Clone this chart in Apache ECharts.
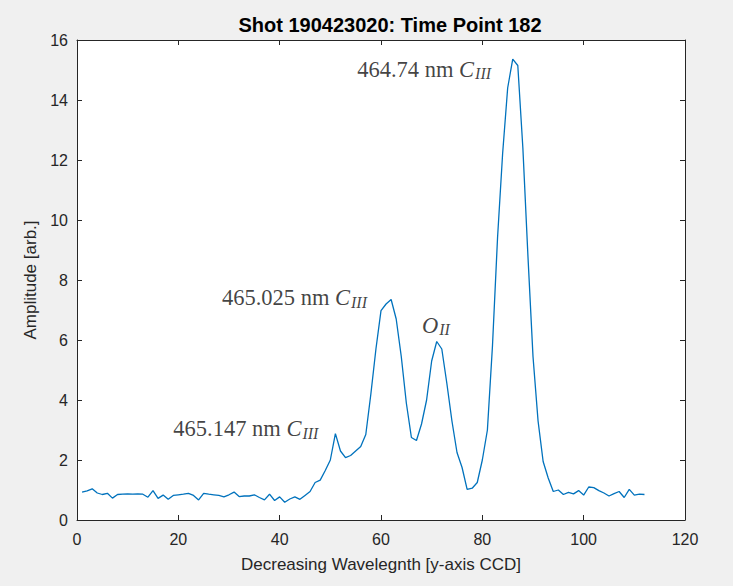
<!DOCTYPE html>
<html>
<head>
<meta charset="utf-8">
<script src="https://cdn.jsdelivr.net/npm/echarts@6/dist/echarts.min.js"></script>
<style>
html,body{margin:0;padding:0;background:#f0f0f0;}
#chart{width:733px;height:586px;}
</style>
</head>
<body>
<div id="chart"></div>
<script>
// Pixel index (x) and amplitude (y)
const pixelIndex = [];
for (let i = 1; i <= 112; i++) pixelIndex.push(i);
const amplitude = [
  0.93, 0.97, 1.04, 0.90, 0.85, 0.89, 0.73, 0.85, 0.86, 0.87,
  0.86, 0.87, 0.86, 0.76, 0.98, 0.72, 0.83, 0.69, 0.82, 0.84,
  0.86, 0.89, 0.82, 0.67, 0.89, 0.86, 0.84, 0.82, 0.77, 0.84,
  0.93, 0.78, 0.80, 0.80, 0.84, 0.75, 0.67, 0.86, 0.65, 0.77,
  0.59, 0.70, 0.77, 0.69, 0.82, 0.95, 1.25, 1.33, 1.65, 2.00,
  2.88, 2.30, 2.08, 2.15, 2.30, 2.45, 2.85, 4.20, 5.70, 6.98,
  7.20, 7.35, 6.70, 5.45, 3.90, 2.75, 2.65, 3.20, 4.00, 5.30,
  5.95, 5.70, 4.55, 3.30, 2.25, 1.75, 1.02, 1.06, 1.25, 2.00,
  3.00, 5.80, 9.40, 12.20, 14.40, 15.36, 15.15, 12.40, 8.80, 5.45,
  3.30, 1.95, 1.40, 0.95, 1.00, 0.85, 0.92, 0.87, 0.98, 0.83,
  1.10, 1.08, 0.98, 0.90, 0.80, 0.88, 0.95, 0.75, 1.02, 0.83,
  0.86, 0.85
];
// Annotations: anchor x, anchor y, plain text, species symbol, ionisation subscript
const annoX = [19, 28.6, 68.1, 55.3];
const annoY = [3.04, 7.41, 6.5, 15.03];
const annoText = ['465.147 nm ', '465.025 nm ', '', '464.74 nm '];
const annoSym = ['C', 'C', 'O', 'C'];
const annoSub = ['III', 'III', 'II', 'III'];
const xTicks = [0, 20, 40, 60, 80, 100, 120];
const yTicks = [0, 2, 4, 6, 8, 10, 12, 14, 16];

const lineData = pixelIndex.map((x, i) => [x, amplitude[i]]);
const annoData = annoX.map((x, i) => ({
  value: [x, annoY[i]],
  label: { formatter: (annoText[i] ? '{m|' + annoText[i] + '}' : '') + '{c|' + annoSym[i] + '}{s|' + annoSub[i] + '}' }
}));

const axisColor = '#262626';
const serif = 'Liberation Serif, Times New Roman, serif';
const sans = 'Liberation Sans, Arial, sans-serif';
const chart = echarts.init(document.getElementById('chart'), null, { renderer: 'svg' });
const commonX = {
  type: 'value', min: xTicks[0], max: xTicks[xTicks.length - 1], interval: 20,
  axisLine: { show: true, onZero: false, lineStyle: { color: axisColor, width: 1 } },
  axisTick: { show: true, inside: true, length: 5, lineStyle: { color: axisColor } },
  splitLine: { show: false }
};
const commonY = {
  type: 'value', min: yTicks[0], max: yTicks[yTicks.length - 1], interval: 2,
  axisLine: { show: true, onZero: false, lineStyle: { color: axisColor, width: 1 } },
  axisTick: { show: true, inside: true, length: 5, lineStyle: { color: axisColor } },
  splitLine: { show: false }
};
chart.setOption({
  backgroundColor: '#f0f0f0',
  animation: false,
  title: {
    text: 'Shot 190423020: Time Point 182',
    left: 385, top: 10, textAlign: 'center',
    textStyle: { fontFamily: sans, fontWeight: 'bold', fontSize: 20, color: '#000' }
  },
  grid: { left: 77, right: 48, top: 40, bottom: 66, show: true, backgroundColor: '#ffffff', borderWidth: 0 },
  xAxis: [
    Object.assign({}, commonX, {
      position: 'bottom',
      name: 'Decreasing Wavelegnth [y-axis CCD]', nameLocation: 'middle', nameGap: 36,
      nameTextStyle: { fontFamily: sans, fontSize: 17, color: '#262626' },
      axisLabel: { show: true, margin: 11, fontFamily: sans, fontSize: 16, color: '#262626' }
    }),
    Object.assign({}, commonX, { position: 'top', axisLabel: { show: false } })
  ],
  yAxis: [
    Object.assign({}, commonY, {
      position: 'left',
      name: 'Amplitude [arb.]', nameLocation: 'middle', nameGap: 36,
      nameTextStyle: { fontFamily: sans, fontSize: 17, color: '#262626' },
      axisLabel: { show: true, margin: 9, fontFamily: sans, fontSize: 16, color: '#262626' }
    }),
    Object.assign({}, commonY, { position: 'right', axisLabel: { show: false } })
  ],
  series: [
    {
      type: 'line', data: lineData, showSymbol: false, symbol: 'none',
      lineStyle: { color: '#0072BD', width: 1.3 }, xAxisIndex: 0, yAxisIndex: 0
    },
    {
      type: 'scatter', data: annoData, symbolSize: 0, silent: true, xAxisIndex: 0, yAxisIndex: 0,
      label: {
        show: true, position: 'right', distance: 0, align: 'left', verticalAlign: 'middle',
        rich: {
          m: { fontFamily: serif, fontSize: 22.5, color: '#111', lineHeight: 26 },
          c: { fontFamily: serif, fontStyle: 'italic', fontSize: 22.5, color: '#111', lineHeight: 26 },
          s: { fontFamily: serif, fontStyle: 'italic', fontSize: 16, color: '#111', lineHeight: 26, padding: [9, 0, 0, 1] }
        }
      }
    }
  ]
});
</script>
</body>
</html>
